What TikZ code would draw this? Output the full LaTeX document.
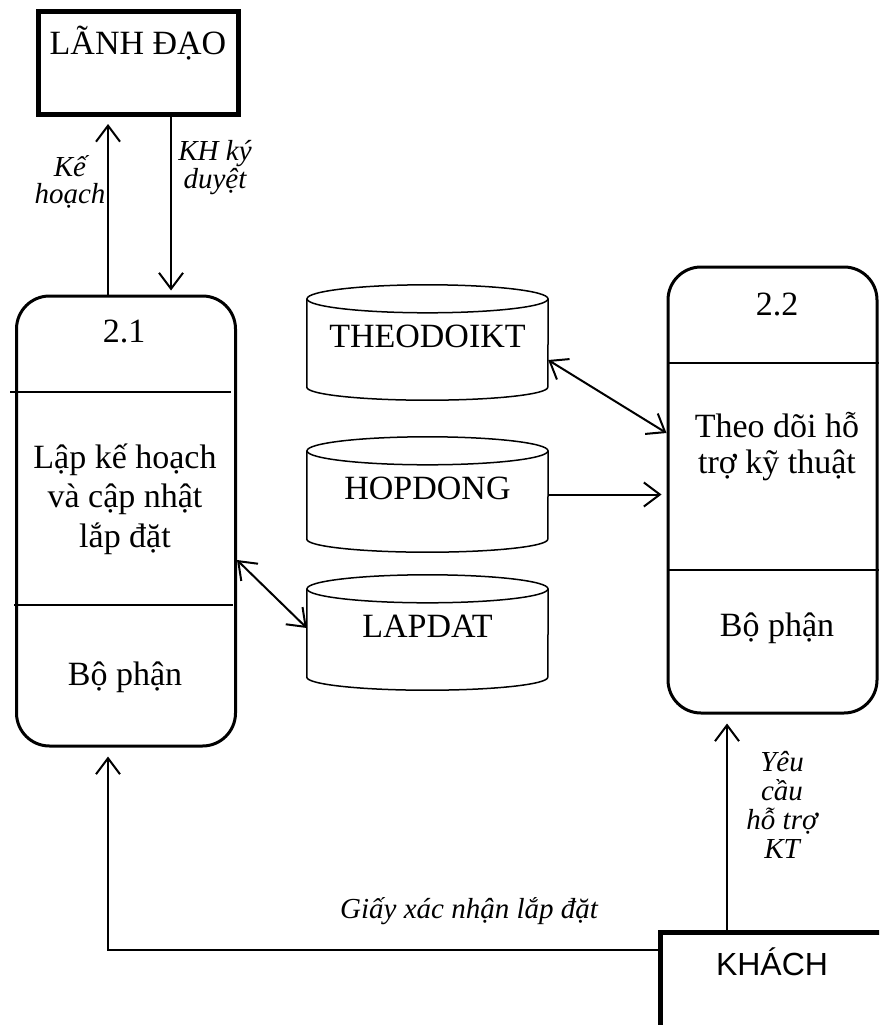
\documentclass[tikz,border=0pt]{standalone}
\usepackage{fontspec}
\setmainfont{Liberation Serif}
\setsansfont{Liberation Sans}
\usetikzlibrary{arrows.meta}
\newcommand{\bigtxt}{\fontsize{34}{39.5}\selectfont}
\newcommand{\lbltxt}{\fontsize{29}{28}\selectfont\itshape}
\tikzset{
  ent/.style={draw, line width=5pt, minimum width=200pt, minimum height=103pt},
  proc/.style={draw, line width=3pt, rounded corners=33pt},
  storebox/.style={minimum width=241pt, minimum height=115pt, inner sep=0pt,
    text depth=13pt, font=\bigtxt},
  storeline/.style={line width=1.5pt},
  txt/.style={anchor=base, align=center, inner sep=0pt, font=\bigtxt},
  lbl/.style={anchor=base, align=center, inner sep=0pt, font=\lbltxt},
  flow/.style={line width=2pt, -{Straight Barb[length=16pt,width=24pt]}},
  biflow/.style={line width=2pt,
    {Straight Barb[length=16pt,width=24pt]}-{Straight Barb[length=16pt,width=24pt]}},
  sep/.style={line width=2pt}
}
% data store drawn as an open cylinder: name, x, y, text
\newcommand{\datastore}[4]{%
  \node[storebox] (#1) at (#2,#3) {#4};
  \draw[storeline] ([yshift=-14pt]#1.north) ellipse [x radius=120.5pt, y radius=14pt];
  \draw[storeline] ([yshift=-14pt]#1.north west) -- ([yshift=13pt]#1.south west)
    arc [start angle=180, end angle=360, x radius=120.5pt, y radius=13pt]
    -- ([yshift=-14pt]#1.north east);
}

\begin{document}
\begin{tikzpicture}[x=1pt,y=-1pt]
  \useasboundingbox (0,0) rectangle (879,1025);
  \clip (0,0) rectangle (879,1025);
  % external entities
  \node[ent] (lanh) at (138.5,63) {};
  \node[txt] (lanhtxt) at (138,55) {LÃNH ĐẠO};
  \node[ent, minimum width=300pt, minimum height=190pt] (khach) at (810.5,1027) {};
  \node[txt, font=\sffamily\fontsize{32}{32}\selectfont] (khachtxt) at (772,975) {KHÁCH};
  % processes
  \node[proc, minimum width=219pt, minimum height=450pt] (p21) at (126,521) {};
  \draw[sep] (10,392) -- (231,392);
  \draw[sep] (14,605) -- (233,605);
  \node[txt] (p21id) at (124,342) {2.1};
  \node[txt] (p21name) at (125,547) {Lập kế hoạch\\và cập nhật\\lắp đặt};
  \node[txt] (p21who) at (125,685) {Bộ phận};
  \node[proc, minimum width=209pt, minimum height=446pt] (p22) at (772.5,490) {};
  \draw[sep] (668,363) -- (879,363);
  \draw[sep] (668,570) -- (879,570);
  \node[txt] (p22id) at (777,315) {2.2};
  \node[txt, font=\fontsize{34}{36}\selectfont] (p22name) at (777,473) {Theo dõi hỗ\\trợ kỹ thuật};
  \node[txt] (p22who) at (777,636) {Bộ phận};
  % data stores
  \datastore{theo}{427.5}{342.5}{THEODOIKT}
  \datastore{hop}{427.5}{494.5}{HOPDONG}
  \datastore{lap}{427.5}{632.5}{LAPDAT}
  % flows
  \coordinate (kx) at (108,0);
  \coordinate (dx) at (171,0);
  \coordinate (yx) at (727,0);
  \coordinate (gy) at (0,950);
  \draw[flow, shorten >=7pt] (p21.north -| kx) -- (lanh.south -| kx);
  \draw[flow, shorten >=4pt] (lanh.south -| dx) -- (p21.north -| dx);
  \node[lbl, font=\fontsize{29}{27}\selectfont\itshape] (kelbl) at (70,203) {Kế\\hoạch};
  \node[lbl] (khlbl) at (215,188) {KH ký\\duyệt};
  \draw[biflow] ([yshift=-17.5pt]theo.east) -- ([yshift=57pt]p22.west);
  \draw[flow, shorten >=5pt] (hop.east) -- (hop.east -| p22.west);
  \draw[biflow] ([yshift=-39pt]p21.east) -- ([yshift=4.5pt]lap.west);
  \draw[flow, shorten >=9pt] (khach.west |- gy) -| (p21.south -| kx);
  \node[lbl] (giaylbl) at (469,918) {Giấy xác nhận lắp đặt};
  \draw[flow, shorten >=9pt] (khach.north -| yx) -- (p22.south -| yx);
  \node[lbl, font=\fontsize{29}{29}\selectfont\itshape] (yeulbl) at (782,858) {Yêu\\cầu\\hỗ trợ\\KT};
\end{tikzpicture}
\end{document}
